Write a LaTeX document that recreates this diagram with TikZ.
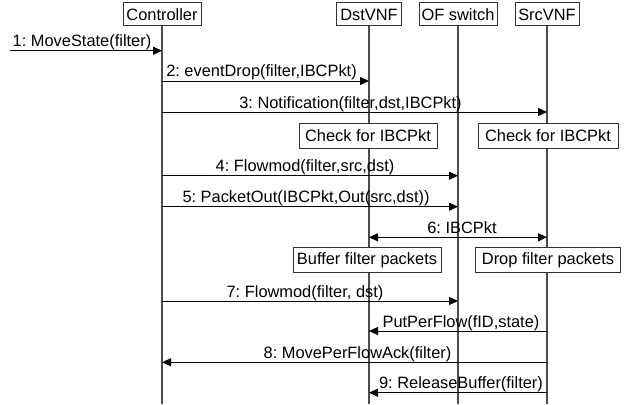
\documentclass[tikz,border=0pt]{standalone}
\usepackage{fontspec}
\setmainfont{Liberation Sans}
\usetikzlibrary{arrows.meta,calc}
\begin{document}
\begin{tikzpicture}[x=1pt,y=-1pt,
  every node/.style={font=\fontsize{16.4}{19}\selectfont\frenchspacing, inner sep=0pt},
  actor/.style={draw=black!80, line width=1pt, fill=white, minimum height=23pt},
  note/.style={draw=black!80, line width=1pt, fill=white, minimum height=25pt},
  life/.style={draw=black!70, line width=1.1pt},
  msg/.style={draw=black, line width=1pt, -{Triangle[length=9pt,width=8pt]}},
  dmsg/.style={draw=black, line width=1pt, {Triangle[length=9pt,width=8pt]}-{Triangle[length=9pt,width=8pt]}},
  lbl/.style={anchor=base, yshift=4pt}]
\useasboundingbox (0,0) rectangle (631,404);
% actors
\node[actor, minimum width=78pt] (ctrl) at (162,14.5) {Controller};
\node[actor, minimum width=65pt] (dst) at (369,14.5) {DstVNF};
\node[actor, minimum width=78pt] (ofs) at (458,14.5) {OF switch};
\node[actor, minimum width=64pt] (src) at (547,14.5) {SrcVNF};
% lifelines
\coordinate (bot) at (0,404);
\draw[life] (ctrl.south) -- (ctrl |- bot);
\draw[life] (dst.south) -- (dst |- bot);
\draw[life] (ofs.south) -- (ofs |- bot);
\draw[life] (src.south) -- (src |- bot);
% notes
\node[note, minimum width=138pt] (chk1) at (368,135.5) {Check for IBCPkt};
\node[note, minimum width=140pt] (chk2) at (548,135.5) {Check for IBCPkt};
\node[note, minimum width=148pt] (buf) at (367,260) {Buffer filter packets};
\node[note, minimum width=145pt] (drp) at (548,260) {Drop filter packets};
% message rows
\coordinate (s1) at (10,50.7);
\coordinate (y2) at (0,81);
\coordinate (y3) at (0,112);
\coordinate (y4) at (0,175.7);
\coordinate (y5) at (0,206.7);
\coordinate (y6) at (0,237.3);
\coordinate (y7) at (0,301);
\coordinate (yp) at (0,331);
\coordinate (y8) at (0,362.3);
\coordinate (y9) at (0,392.7);
% messages
\draw[msg] (s1) -- (ctrl |- s1) node[lbl, midway, xshift=-4pt] {1: MoveState(filter)};
\draw[msg] (ctrl |- y2) -- (dst |- y2) node[lbl, midway, xshift=-4pt] {2: eventDrop(filter,IBCPkt)};
\draw[msg] (ctrl |- y3) -- (src |- y3) node[lbl, midway, xshift=-4pt] {3: Notification(filter,dst,IBCPkt)};
\draw[msg] (ctrl |- y4) -- (ofs |- y4) node[lbl, midway, xshift=-5pt] {4: Flowmod(filter,src,dst)};
\draw[msg] (ctrl |- y5) -- (ofs |- y5) node[lbl, midway, xshift=-4pt] {5: PacketOut(IBCPkt,Out(src,dst))};
\draw[dmsg] (dst |- y6) -- (src |- y6) node[lbl, midway, xshift=4pt] {6: IBCPkt};
\draw[msg] (ctrl |- y7) -- (ofs |- y7) node[lbl, midway, xshift=-5pt] {7: Flowmod(filter, dst)};
\draw[msg] (src |- yp) -- (dst |- yp) node[lbl, midway, xshift=3pt] {PutPerFlow(fID,state)};
\draw[msg] (src |- y8) -- (ctrl |- y8) node[lbl, midway, xshift=3pt] {8: MovePerFlowAck(filter)};
\draw[msg] (src |- y9) -- (dst |- y9) node[lbl, midway, xshift=3pt] {9: ReleaseBuffer(filter)};
\end{tikzpicture}
\end{document}
